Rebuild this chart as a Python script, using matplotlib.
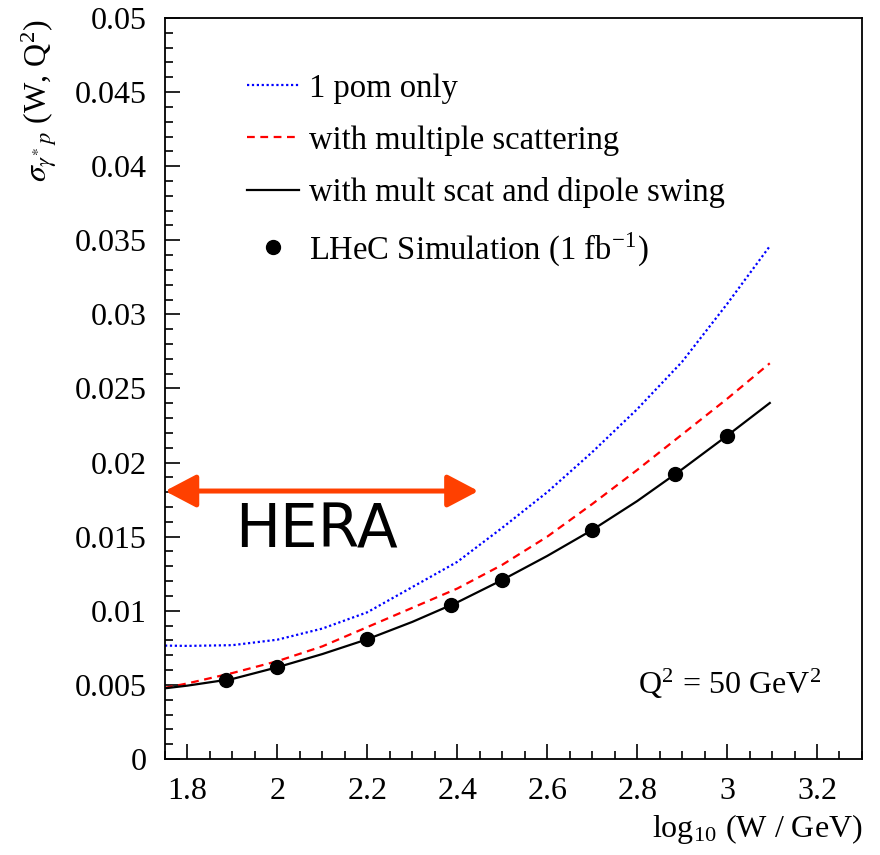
"""
Sezione d'urto gamma* p in funzione di log10(W), Q^2 = 50 GeV^2.
"""

import matplotlib
matplotlib.use("Agg")
import matplotlib.pyplot as plt
from matplotlib.lines import Line2D
from matplotlib.ticker import MultipleLocator

plt.rcParams["font.family"] = ["Liberation Serif", "DejaVu Serif"]
plt.rcParams["mathtext.fontset"] = "stix"

# curve modello (log10 W, sigma)
x_curve = [1.75, 1.8, 1.9, 2.0, 2.1, 2.2, 2.3, 2.4, 2.5, 2.6, 2.7, 2.8, 2.9, 3.0, 3.095]
y_1pom = [0.00765, 0.00763, 0.00768, 0.00805, 0.00880, 0.00990, 0.0116, 0.0133,
          0.0156, 0.0180, 0.0207, 0.0236, 0.0268, 0.0307, 0.0346]
y_multscat = [0.0048, 0.0051, 0.0058, 0.0066, 0.0076, 0.0089, 0.0102, 0.0115,
              0.0131, 0.0150, 0.0172, 0.0195, 0.0219, 0.0243, 0.0267]
y_swing = [0.00477, 0.00495, 0.00540, 0.00619, 0.00708, 0.00808, 0.00925, 0.01057,
           0.01208, 0.01370, 0.01545, 0.01740, 0.01955, 0.02181, 0.02402]

# punti simulazione LHeC
x_sim = [1.886, 2.0, 2.2, 2.385, 2.5, 2.7, 2.884, 3.0]
y_sim = [0.00533, 0.00619, 0.00808, 0.01037, 0.01208, 0.01545, 0.01921, 0.02181]

# intervallo HERA
hera_range = [1.75, 2.447]
hera_y = 0.01808

labels = ["1 pom only", "with multiple scattering",
          "with mult scat and dipole swing", r"LHeC Simulation (1 fb$^{\mathregular{-1}}$)"]

FS = 23

fig = plt.figure(figsize=(8.8, 8.55), dpi=100)
ax = fig.add_axes([0.1875, 0.1123, 0.792, 0.8667])

ax.plot(x_curve, y_1pom, color="blue", ls=(0, (1, 1.2)), lw=1.6)
ax.plot(x_curve, y_multscat, color="red", ls=(0, (3.5, 2.5)), lw=1.6)
ax.plot(x_curve, y_swing, color="black", ls="-", lw=1.6)
ax.plot(x_sim, y_sim, "o", color="black", ms=10, zorder=5)

ax.set_xlim(1.75, 3.3)
ax.set_ylim(0, 0.05)
ax.xaxis.set_major_locator(MultipleLocator(0.2))
ax.xaxis.set_minor_locator(MultipleLocator(0.05))
ax.yaxis.set_major_locator(MultipleLocator(0.005))
ax.yaxis.set_minor_locator(MultipleLocator(0.001))
ax.set_xticklabels([f"{v:g}" for v in ax.get_xticks()])
ax.set_yticklabels([f"{v:g}" for v in ax.get_yticks()])
ax.tick_params(which="both", direction="in", top=False, right=False, labelsize=FS)
ax.tick_params(which="major", length=11, width=1.2)
ax.tick_params(axis="x", which="major", pad=13)
ax.tick_params(axis="y", which="major", pad=13)
ax.tick_params(which="minor", length=5.5, width=1.2)
for s in ax.spines.values():
    s.set_linewidth(1.3)

# legenda
handles = [
    Line2D([], [], color="blue", ls=(0, (1, 1.2)), lw=1.6),
    Line2D([], [], color="red", ls=(0, (3.5, 2.5)), lw=1.6),
    Line2D([], [], color="black", ls="-", lw=1.6),
    Line2D([], [], marker="o", color="black", ls="none", ms=10),
]
ax.legend(handles, labels, loc="upper left", bbox_to_anchor=(0.099, 0.943),
          frameon=False, fontsize=23.5, handlelength=1.6, handletextpad=0.3,
          labelspacing=0.66, borderaxespad=0)

# freccia HERA
ax.annotate("", xy=(hera_range[0], hera_y), xytext=(hera_range[1], hera_y),
            arrowprops=dict(arrowstyle="<|-|>,head_length=1.9,head_width=1.0",
                            color="#ff4000", lw=3.6, shrinkA=0, shrinkB=0,
                            mutation_scale=10),
            annotation_clip=False)
ax.text(2.088, 0.0154, "HERA", fontsize=43, family="DejaVu Sans",
        ha="center", va="center", color="black")

ax.text(0.942, 0.102, r"Q$^{\mathregular{2}}$ = 50 GeV$^{\mathregular{2}}$", transform=ax.transAxes,
        fontsize=FS, ha="right", va="center")

fig.text(0.98, 0.03, r"log$_{\mathregular{10}}$ (W / GeV)", fontsize=FS, ha="right", va="center")
fig.text(0.045, 0.978, r"$\sigma_{\gamma^{*}\,p}$ (W, Q$^{\mathregular{2}}$)", fontsize=FS,
         rotation=90, ha="center", va="top")

fig.savefig("out.png", dpi=100)
